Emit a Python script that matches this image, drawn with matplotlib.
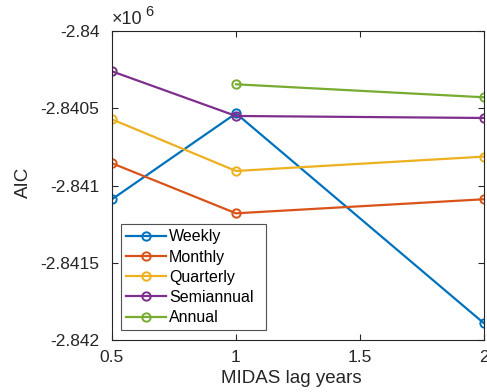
import numpy as np
import matplotlib
matplotlib.use("Agg")
import matplotlib.pyplot as plt

plt.rcParams['font.family'] = ['Liberation Sans', 'DejaVu Sans']

lags = [0.5, 1.0, 2.0]
weekly = [-2841089, -2840533, -2841892]
monthly = [-2840856, -2841180, -2841089]
quarterly = [-2840572, -2840906, -2840813]
semiannual = [-2840261, -2840550, -2840563]
annual = [np.nan, -2840345, -2840429]

series = [("Weekly", weekly, "#0072BD"),
          ("Monthly", monthly, "#D95319"),
          ("Quarterly", quarterly, "#EDB120"),
          ("Semiannual", semiannual, "#7E2F8E"),
          ("Annual", annual, "#77AC30")]

ink = '#262626'
fig = plt.figure(figsize=(4.87, 3.92), dpi=100)
ax = fig.add_axes([112/487, 1-340/392, (484-112)/487, (340-31)/392])

for name, vals, c in series:
    ax.plot(lags, np.array(vals)/1e6, color=c, lw=1.6, marker='o', ms=6,
            mfc='none', mew=1.4, label=name)

ax.set_xlim(0.5, 2)
ax.set_ylim(-2.842, -2.84)
ax.set_xticks([0.5, 1, 1.5, 2])
ax.set_xticklabels(['0.5', '1', '1.5', '2'])
yt = [-2.842, -2.8415, -2.841, -2.8405, -2.84]
ax.set_yticks(yt)
ax.set_yticklabels(['-2.842', '-2.8415', '-2.841', '-2.8405', '-2.84'])
ax.tick_params(direction='in', top=True, right=True, labelsize=12.5, length=4,
               color=ink, labelcolor=ink)
ax.tick_params(axis='y', pad=9)
ax.tick_params(axis='x', pad=7)
for s in ax.spines.values():
    s.set_color(ink)
    s.set_linewidth(0.8)

ax.set_xlabel('MIDAS lag years', fontsize=13.5, color=ink)
ax.set_ylabel('AIC', fontsize=13.5, color=ink)
ax.xaxis.set_label_coords(0.4825, -0.097)
ax.yaxis.set_label_coords(-0.215, 0.51)

t1 = ax.text(0.0, 1.01, '\u00d710', transform=ax.transAxes, fontsize=13,
             color=ink, ha='left', va='bottom')
ax.annotate('6', xy=(1, 0.55), xycoords=t1, xytext=(2, 0),
            textcoords='offset points', fontsize=10.5, color=ink,
            ha='left', va='bottom')

leg = ax.legend(loc='lower left', bbox_to_anchor=(0.024, 0.032, 0.39, 0.3),
                mode='expand', fontsize=11.5,
                frameon=True, fancybox=False, edgecolor=ink,
                handlelength=2.5, handletextpad=0.2, labelspacing=0.33,
                borderpad=0.3, borderaxespad=0)
leg.get_frame().set_linewidth(0.8)

fig.savefig('out.png', dpi=100)
